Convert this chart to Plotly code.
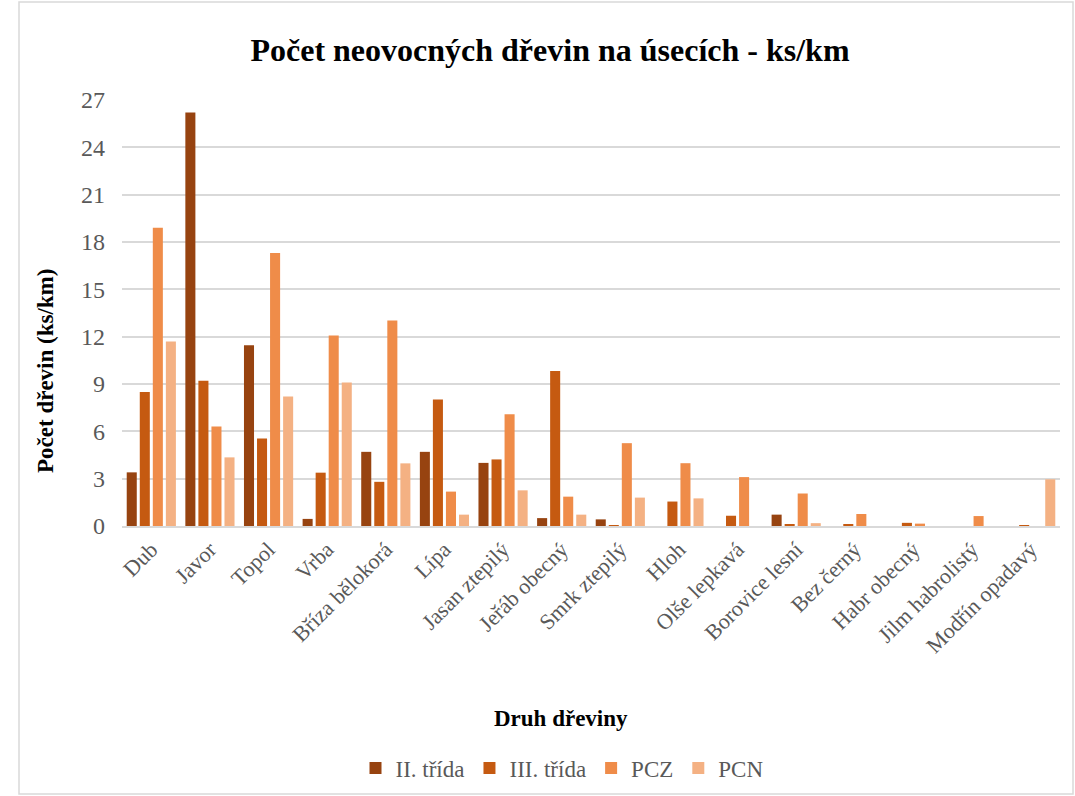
import plotly.graph_objects as go

categories = ["Dub", "Javor", "Topol", "Vrba", "Bříza bělokorá", "Lípa", "Jasan ztepilý",
              "Jeřáb obecný", "Smrk ztepilý", "Hloh", "Olše lepkavá", "Borovice lesní",
              "Bez černý", "Habr obecný", "Jilm habrolistý", "Modřín opadavý"]
ii_trida = [3.4, 26.2, 11.45, 0.45, 4.7, 4.7, 4.0, 0.5, 0.42, 0, 0, 0.72, 0, 0, 0, 0]
iii_trida = [8.5, 9.2, 5.55, 3.38, 2.8, 8.02, 4.22, 9.82, 0.05, 1.55, 0.65, 0.12, 0.07, 0.2, 0, 0.03]
pcz = [18.9, 6.3, 17.3, 12.08, 13.02, 2.18, 7.08, 1.86, 5.25, 3.98, 3.1, 2.06, 0.76, 0.15, 0.63, 0]
pcn = [11.7, 4.35, 8.2, 9.1, 3.97, 0.72, 2.26, 0.72, 1.8, 1.75, 0, 0.18, 0, 0, 0, 2.96]
series_names = ["II. třída", "III. třída", "PCZ", "PCN"]
colors = ["#974310", "#C55A11", "#EF8C49", "#F4B183"]
y_ticks = [0, 3, 6, 9, 12, 15, 18, 21, 24, 27]

FONT = "Liberation Serif"
fig = go.Figure()
for name, vals, col in zip(series_names, [ii_trida, iii_trida, pcz, pcn], colors):
    fig.add_trace(go.Bar(x=categories, y=vals, name=name, marker=dict(color=col, line=dict(width=0))))

L, R, T, B = 122, 15, 100, 270
W, H = 1075, 796
pw = W - L - R
ph = H - T - B

fig.update_layout(
    width=W, height=H,
    margin=dict(l=L, r=R, t=T, b=B, autoexpand=False),
    paper_bgcolor="white", plot_bgcolor="white",
    barmode="group", bargap=0.11, bargroupgap=0.23,
    font=dict(family=FONT, color="#595959", size=22),
    title=dict(text="<b>Počet neovocných dřevin na úsecích - ks/km</b>",
               x=550 / W, xanchor="center", y=1 - 50 / H, yanchor="middle",
               font=dict(family=FONT, size=32, color="black")),
    xaxis=dict(tickangle=-45, tickfont=dict(size=22, color="#595959"), automargin=False,
               showline=True, linecolor="#d9d9d9", linewidth=2, ticks=""),
    yaxis=dict(range=[0, 27], tickvals=y_ticks, tickfont=dict(size=24, color="#595959"),
               showgrid=True, gridcolor="#d9d9d9", gridwidth=1.5, zeroline=False,
               ticks="", ticklabelstandoff=16, automargin=False),
    legend=dict(orientation="h", x=(562 - L) / pw, xanchor="center",
                y=(T + ph - 768) / ph, yanchor="middle",
                font=dict(size=23, color="#595959"), traceorder="normal",
                itemwidth=30),
    showlegend=True,
)

fig.add_annotation(text="<b>Počet dřevin (ks/km)</b>", textangle=-90,
                   xref="paper", yref="paper", x=(45 - L) / pw, y=(T + ph - 371) / ph,
                   xanchor="center", yanchor="middle", showarrow=False,
                   font=dict(family=FONT, size=23, color="black"))
fig.add_annotation(text="<b>Druh dřeviny</b>",
                   xref="paper", yref="paper", x=(561 - L) / pw, y=(T + ph - 718) / ph,
                   xanchor="center", yanchor="middle", showarrow=False,
                   font=dict(family=FONT, size=23, color="black"))

fig.add_shape(type="rect", xref="paper", yref="paper",
              x0=(19 - L) / pw, x1=(1073 - L) / pw, y0=(T + ph - 794) / ph, y1=(T + ph - 2) / ph,
              line=dict(color="#d9d9d9", width=1.5), fillcolor="rgba(0,0,0,0)", layer="below")

fig.write_html("out.html")
